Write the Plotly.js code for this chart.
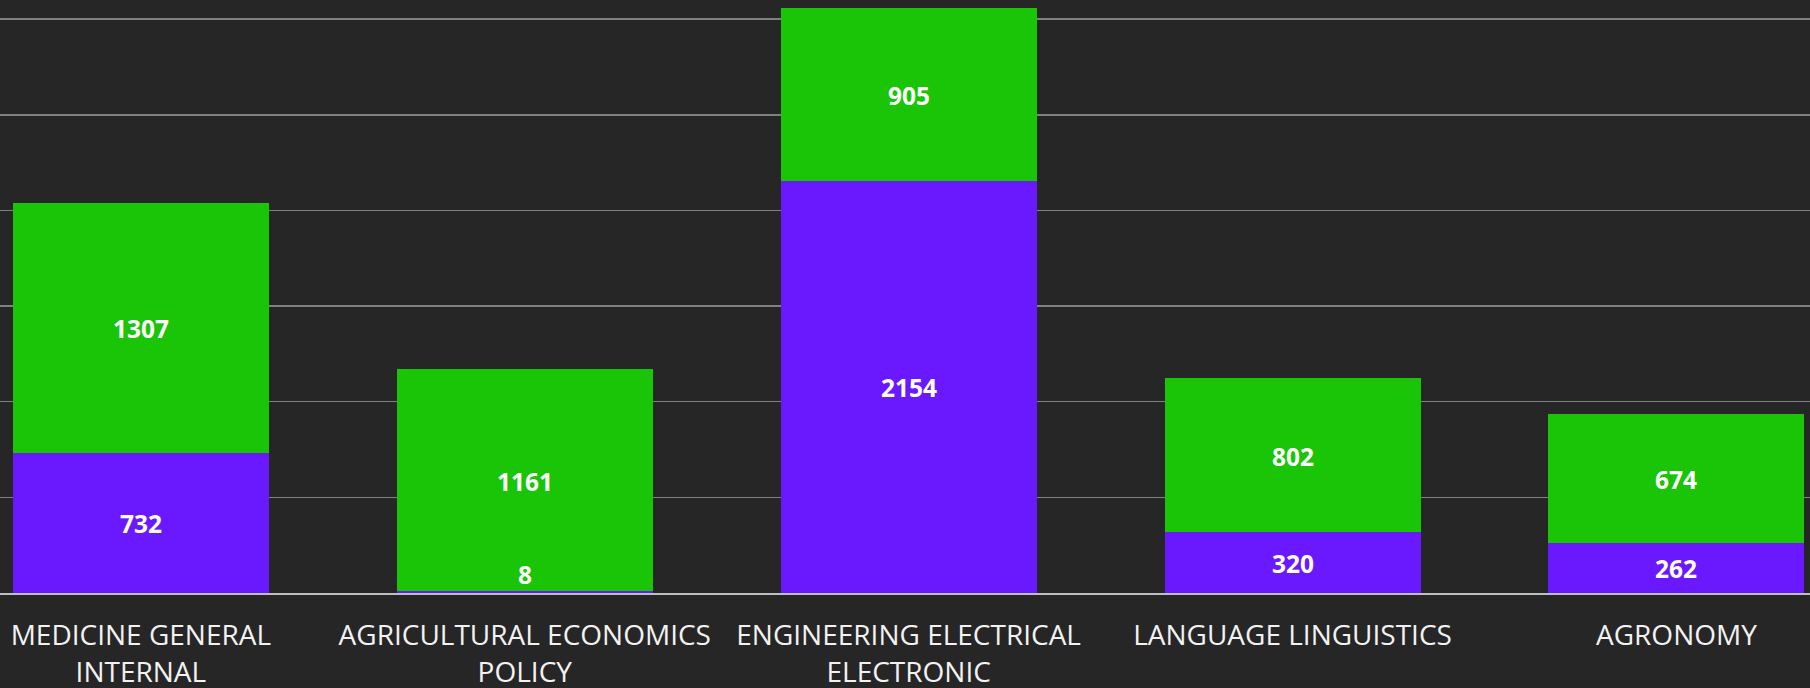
<!DOCTYPE html>
<html>
<head>
<meta charset="utf-8">
<script src="https://cdn.plot.ly/plotly-3.0.1.min.js"></script>
<style>
  html, body { margin: 0; padding: 0; background: #262626; }
  #chart { width: 1810px; height: 688px; }
</style>
</head>
<body>
<div id="chart"></div>
<script>
// ---- data ----
const categories = ["MEDICINE GENERAL INTERNAL", "AGRICULTURAL ECONOMICS POLICY", "ENGINEERING ELECTRICAL ELECTRONIC", "LANGUAGE LINGUISTICS", "AGRONOMY"];
const tickLabels = ["MEDICINE GENERAL<br>INTERNAL", "AGRICULTURAL ECONOMICS<br>POLICY", "ENGINEERING ELECTRICAL<br>ELECTRONIC", "LANGUAGE LINGUISTICS", "AGRONOMY"];
const purpleValues = [732, 8, 2154, 320, 262];
const greenValues = [1307, 1161, 905, 802, 674];

// ---- style ----
const BG = "#262626";
const PURPLE = "#6A19FF";
const GREEN = "#1AC406";
const labelFloor = 100; // keeps tiny-segment labels above the axis line

const purpleLabelY = purpleValues.map(v => Math.max(v / 2, labelFloor));
const greenLabelY = greenValues.map((v, i) => purpleValues[i] + v / 2);

const labelFont = { family: "Open Sans, sans-serif", size: 24.5, color: "#ffffff", weight: 700 };

const traces = [
  { type: "bar", x: categories, y: purpleValues, marker: { color: PURPLE }, name: "Purple", hoverinfo: "x+y" },
  { type: "bar", x: categories, y: greenValues, marker: { color: GREEN }, name: "Green", hoverinfo: "x+y" }
];

const annotations = [];
categories.forEach((c, i) => {
  annotations.push({ x: c, y: purpleLabelY[i], text: String(purpleValues[i]), showarrow: false,
    font: labelFont, xanchor: "center", yanchor: "middle", yshift: -1 });
  annotations.push({ x: c, y: greenLabelY[i], text: String(greenValues[i]), showarrow: false,
    font: labelFont, xanchor: "center", yanchor: "middle", yshift: -1 });
});

const layout = {
  width: 1810, height: 688,
  paper_bgcolor: BG, plot_bgcolor: BG,
  margin: { l: 0, r: 0, t: 0, b: 95, pad: 0 },
  barmode: "stack",
  bargap: 0.333,
  showlegend: false,
  annotations: annotations,
  xaxis: {
    type: "category",
    range: [-0.367, 4.348],
    tickmode: "array", tickvals: categories, ticktext: tickLabels,
    tickfont: { family: "Open Sans, sans-serif", size: 28, color: "#f2f2f2" },
    showgrid: false, zeroline: false,
    showline: true, linecolor: "#bfbfbf", linewidth: 1.5,
    ticks: "", ticklabelstandoff: 17
  },
  yaxis: {
    range: [0, 3100], dtick: 500, tick0: 0,
    showticklabels: false, ticks: "",
    showgrid: true, gridcolor: "#808080", gridwidth: 1.5,
    zeroline: false, showline: false
  }
};

Plotly.newPlot("chart", traces, layout, { displayModeBar: false, staticPlot: true });
</script>
</body>
</html>
